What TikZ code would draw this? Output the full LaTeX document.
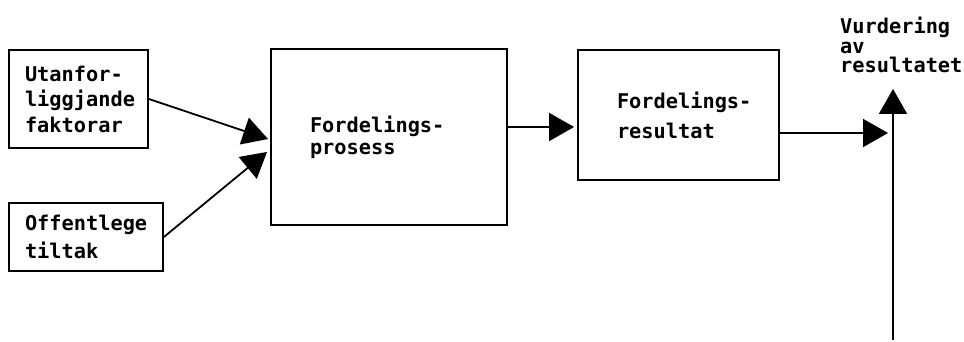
\documentclass[tikz,border=0pt]{standalone}
\usepackage{fontspec}
\setmonofont{DejaVu Sans Mono}
\usetikzlibrary{arrows.meta}
\tikzset{
  blokk/.style={draw, line width=1.8pt, align=left, inner sep=0pt},
  txt/.style={font=\ttfamily\bfseries\fontsize{20.3}{#1}\selectfont},
  pil/.style={line width=1.8pt, -{Triangle[length=25pt,width=28pt]}}
}
\begin{document}
\begin{tikzpicture}[x=1pt,y=-1pt]
\useasboundingbox (0,0) rectangle (964,342);

\node[blokk, txt=25.5, minimum width=139, minimum height=98, text width=107] at (78.5,99) (ytre) {Utanfor-\\liggjande\\faktorar};
\node[blokk, txt=28, minimum width=154, minimum height=68, text width=122] at (86,237) (tiltak) {Offentlege\\tiltak};
\node[blokk, txt=22, minimum width=236, minimum height=176, text width=158] at (389,137) (prosess) {Fordelings-\\prosess};
\node[blokk, txt=30, minimum width=201, minimum height=130, text width=123] at (678.5,115) (resultat) {Fordelings-\\resultat};
\node[txt=19.5, align=left, anchor=north west, inner sep=0pt] at (840,17) (vurd) {Vurdering\\av\\resultatet};

\coordinate (inn1) at (268,139);
\coordinate (inn2) at (267,152);
\coordinate (botn) at (893,340);
\coordinate (treff) at (888,133);

\draw[pil] (ytre.east) -- (inn1);
\draw[pil] (tiltak.east) -- (inn2);
\draw[pil] ([yshift=10pt]prosess.east) -- ([xshift=-3pt]resultat.west |- 0,127);
\draw[pil] ([yshift=-18pt]resultat.east) -- (treff);
\draw[pil] (botn) -- (botn |- 0,89);

\end{tikzpicture}
\end{document}
